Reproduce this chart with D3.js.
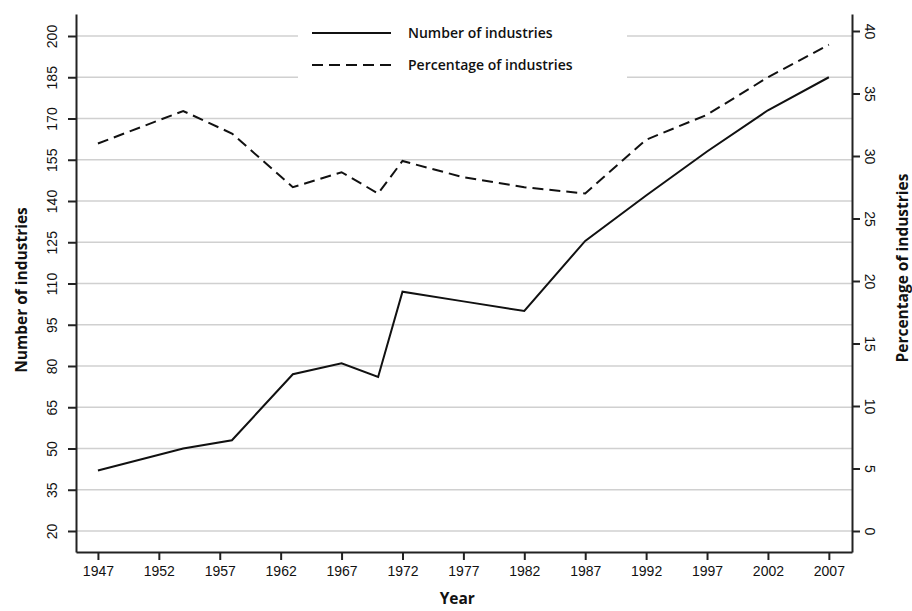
<!DOCTYPE html>
<html>
<head>
<meta charset="utf-8">
<script src="https://cdnjs.cloudflare.com/ajax/libs/d3/7.8.5/d3.min.js"></script>
<style>
  body { margin: 0; background: #fff; }
  svg { display: block; font-family: "Open Sans", "DejaVu Sans", sans-serif; }
  .axis path, .axis line { stroke: #222; }
  .axis path { stroke-width: 2px; }
  .axis line { stroke-width: 2px; }
  .axis text { font-size: 14px; font-weight: 500; fill: #111; }
  .grid { stroke: #d0d0d0; stroke-width: 1.6px; }
  .title { font-size: 15.5px; font-weight: 700; fill: #111; }
  .legendText { font-size: 14px; font-weight: 600; fill: #111; }
</style>
</head>
<body>
<div id="chart"></div>
<script>
// data
var years      = [1947, 1954, 1958, 1963, 1967, 1970, 1972, 1977, 1982, 1987, 1992, 1997, 2002, 2007];
var numInd     = [42, 50, 53, 77, 81, 76, 107, 103.5, 100, 125.5, 142, 158, 173, 185];
var pctInd     = [31.0, 33.6, 31.8, 27.5, 28.7, 27.0, 29.6, 28.3, 27.5, 27.0, 31.3, 33.3, 36.3, 38.9];

var xTicks     = [1947, 1952, 1957, 1962, 1967, 1972, 1977, 1982, 1987, 1992, 1997, 2002, 2007];
var leftTicks  = [20, 35, 50, 65, 80, 95, 110, 125, 140, 155, 170, 185, 200];
var rightTicks = [0, 5, 10, 15, 20, 25, 30, 35, 40];

var legendLabels = ['Number of industries', 'Percentage of industries'];

var W = 912, H = 611;
var plot = { left: 76, right: 852, top: 14, bottom: 552 };

var xScale = d3.scaleLinear()
  .domain([1945.2, 2008.9])
  .range([plot.left, plot.right]);

var yLeft = d3.scaleLinear()
  .domain([12.36, 208])
  .range([plot.bottom, plot.top]);

var yRight = d3.scaleLinear()
  .domain([-1.68, 41.36])
  .range([plot.bottom, plot.top]);

var svg = d3.select('#chart')
  .append('svg')
  .attr('width', W)
  .attr('height', H);

// gridlines follow the left axis
svg.selectAll('line.grid')
  .data(leftTicks)
  .enter()
  .append('line')
  .attr('class', 'grid')
  .attr('x1', plot.left)
  .attr('x2', plot.right)
  .attr('y1', function(d) { return yLeft(d); })
  .attr('y2', function(d) { return yLeft(d); });

// legend box blanks the gridlines behind it
var legend = svg.append('g');
legend.append('rect')
  .attr('x', 298)
  .attr('y', 18)
  .attr('width', 329)
  .attr('height', 64)
  .attr('fill', '#fff');

var legendRows = legend.selectAll('g.row')
  .data(legendLabels)
  .enter()
  .append('g')
  .attr('class', 'row')
  .attr('transform', function(d, i) { return 'translate(312,' + (33 + i * 32) + ')'; });

legendRows.append('line')
  .attr('x1', 0)
  .attr('x2', 79)
  .attr('stroke', '#111')
  .attr('stroke-width', 2)
  .attr('stroke-dasharray', function(d, i) { return i ? '11,6' : null; });

legendRows.append('text')
  .attr('class', 'legendText')
  .attr('x', 96)
  .attr('dy', '0.35em')
  .text(function(d) { return d; });

// axes
var xAxis = d3.axisBottom(xScale)
  .tickValues(xTicks)
  .tickFormat(d3.format('d'))
  .tickSize(8)
  .tickSizeOuter(0)
  .tickPadding(6);

var leftAxis = d3.axisLeft(yLeft)
  .tickValues(leftTicks)
  .tickSize(8)
  .tickSizeOuter(0);

var rightAxis = d3.axisRight(yRight)
  .tickValues(rightTicks)
  .tickSize(8)
  .tickSizeOuter(0);

svg.append('g')
  .attr('class', 'x axis')
  .attr('transform', 'translate(0,' + plot.bottom + ')')
  .call(xAxis);

var gl = svg.append('g')
  .attr('class', 'y axis')
  .attr('transform', 'translate(' + plot.left + ',0)')
  .call(leftAxis);

gl.selectAll('text')
  .attr('x', null)
  .attr('dy', '0.35em')
  .attr('text-anchor', 'middle')
  .attr('transform', 'translate(-24,0) rotate(-90)');

var gr = svg.append('g')
  .attr('class', 'y axis')
  .attr('transform', 'translate(' + plot.right + ',0)')
  .call(rightAxis);

gr.selectAll('text')
  .attr('x', null)
  .attr('dy', '0.35em')
  .attr('text-anchor', 'middle')
  .attr('transform', 'translate(18,0) rotate(90)');

// axis titles
svg.append('text')
  .attr('class', 'title')
  .attr('x', xScale(1976.5))
  .attr('y', 604)
  .attr('text-anchor', 'middle')
  .text('Year');

svg.append('text')
  .attr('class', 'title')
  .attr('text-anchor', 'middle')
  .attr('transform', 'translate(22,290) rotate(-90)')
  .attr('dy', '0.35em')
  .text('Number of industries');

svg.append('text')
  .attr('class', 'title')
  .attr('text-anchor', 'middle')
  .attr('transform', 'translate(903,268) rotate(-90)')
  .attr('dy', '0.35em')
  .text('Percentage of industries');

// series
var numLine = d3.line()
  .x(function(d, i) { return xScale(years[i]); })
  .y(function(d) { return yLeft(d); });

var pctLine = d3.line()
  .x(function(d, i) { return xScale(years[i]); })
  .y(function(d) { return yRight(d); });

svg.append('path')
  .datum(pctInd)
  .attr('d', pctLine)
  .attr('fill', 'none')
  .attr('stroke', '#111')
  .attr('stroke-width', 2)
  .attr('stroke-dasharray', '11,6');

svg.append('path')
  .datum(numInd)
  .attr('d', numLine)
  .attr('fill', 'none')
  .attr('stroke', '#111')
  .attr('stroke-width', 2);
</script>
</body>
</html>
